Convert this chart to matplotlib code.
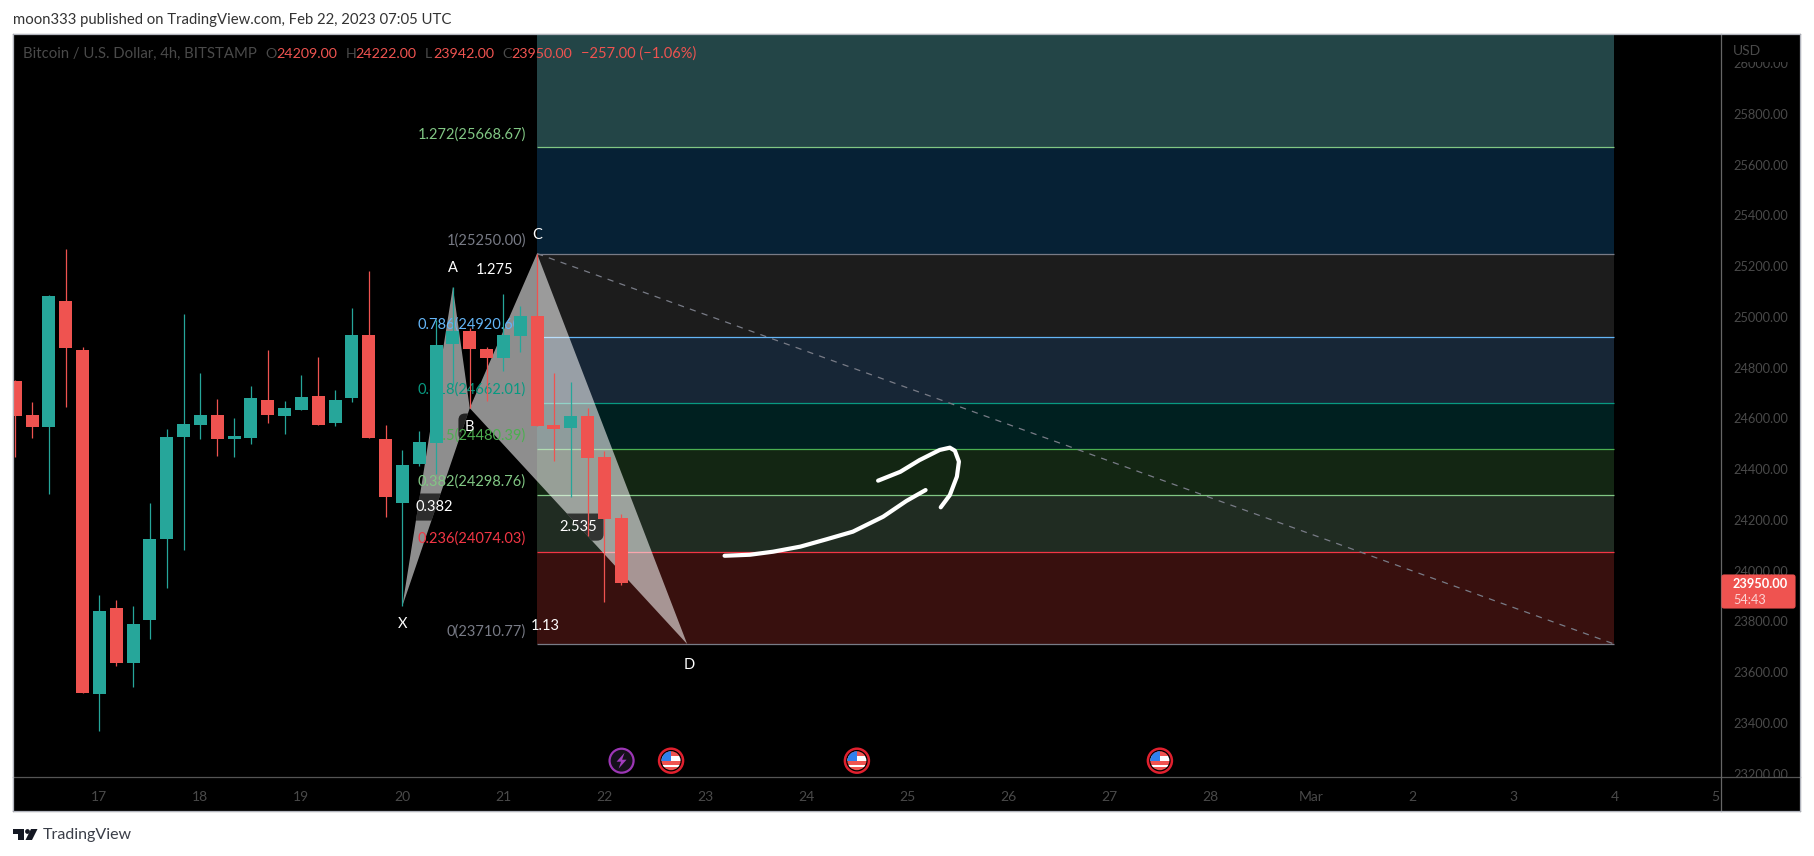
import numpy as np
import matplotlib as mpl
mpl.use("Agg")
import matplotlib.pyplot as plt
from matplotlib.patches import Circle, Rectangle, Polygon, FancyBboxPatch

plt.rcParams['font.family'] = ['Lato', 'DejaVu Sans']

# 4h candles, first one is Feb 16 04:00
first_candle = 16 + 1 / 6
opens = [24748, 24614, 24568, 25063, 24870, 23515, 23853, 23636, 23806, 24125, 24527, 24574, 24614,
         24519, 24523, 24673, 24610, 24633, 24689, 24582, 24681, 24929, 24519, 24267, 24421, 24503,
         24894, 24945, 24874, 24838, 24925, 25004, 24574, 24563, 24610, 24448, 24209]
highs = [24752, 24666, 25087, 25268, 24883, 23904, 23885, 23861, 24267, 24559, 25012, 24779, 24677,
         24602, 24728, 24870, 24669, 24771, 24842, 24712, 25035, 25181, 24574, 24476, 24551, 24988,
         25118, 24957, 24882, 25091, 25043, 25248, 24779, 24744, 24641, 24472, 24222]
lows = [24449, 24524, 24302, 24646, 23519, 23370, 23625, 23543, 23731, 23932, 24082, 24519, 24452,
        24448, 24500, 24582, 24539, 24633, 24574, 24570, 24665, 24523, 24212, 23861, 24413, 24381,
        24732, 24641, 24669, 24787, 24862, 24570, 24432, 24291, 24137, 23877, 23942]
closes = [24611, 24568, 25083, 24879, 23519, 23841, 23636, 23790, 24125, 24527, 24578, 24614, 24519,
          24531, 24681, 24614, 24641, 24685, 24574, 24673, 24929, 24523, 24291, 24417, 24507, 24890,
          24945, 24874, 24838, 24929, 25004, 24570, 24559, 24610, 24444, 24204, 23950]

# fib retracement
fib_ratios = ['1.272', '1', '0.786', '0.618', '0.5', '0.382', '0.236', '0']
fib_levels = [25668.67, 25250.00, 24920.60, 24662.01, 24480.39, 24298.76, 24074.03, 23710.77]
fib_line_colors = ['#81c784', '#787b86', '#64b5f6', '#089981', '#4caf50', '#81c784', '#f23645', '#787b86']
fib_band_colors = ['#062135', '#1c1c1c', '#172636', '#002020', '#132613', '#202c22', '#38100e']
fib_top_band = '#234547'
fib_start, fib_end = 21 + 1 / 3, 32
fib_top = 26300

# XABCD pattern
pattern_names = ['X', 'A', 'B', 'C', 'D']
pattern_x = [20.0, 20.5, 20.667, 21.333, 22.82]
pattern_y = [23861, 25118, 24641, 25250, 23710.77]
ratio_labels = ['1.275', '0.382', '2.535', '1.13']
ratio_x = [20.917, 20.32, 21.74, 21.41]
ratio_y = [25185, 24251, 24172, 23782]

# hand drawn arrow
stroke1_x = [23.19, 23.44, 23.67, 23.94, 24.20, 24.46, 24.76, 24.99, 25.18]
stroke1_y = [24059, 24063, 24075, 24095, 24124, 24154, 24213, 24275, 24318]
stroke2_x = [24.71, 24.93, 25.12, 25.32, 25.42, 25.47, 25.51, 25.49, 25.42, 25.33]
stroke2_y = [24355, 24390, 24436, 24476, 24485, 24473, 24430, 24371, 24298, 24250]

price_ticks = list(range(23200, 26200, 200))
day_ticks = list(range(17, 34))
day_labels = ['17', '18', '19', '20', '21', '22', '23', '24', '25', '26', '27', '28',
              'Mar', '2', '3', '4', '5']
flag_days = [22.66, 24.50, 27.50]
bolt_day = 22.17

GREEN = '#26a69a'
RED = '#ef5350'
DIM = '#4a4a4a'

W, H = 1814, 856
fig = plt.figure(figsize=(W / 100, H / 100), dpi=100, facecolor='white')

# black panel behind the price and time scales
bg = fig.add_axes([13 / W, 1 - 811 / H, 1787 / W, 777 / H], facecolor='black')
bg.set_xticks([])
bg.set_yticks([])

ax = fig.add_axes([13 / W, 1 - 777 / H, 1708 / W, 743 / H], facecolor='black')
ax.set_xlim(16.145, 33.055)
ax.set_ylim(23187.1, 26115.3)
for s in ax.spines.values():
    s.set_visible(False)

# bands
ax.fill_between([fib_start, fib_end], fib_levels[0], fib_top, color=fib_top_band, lw=0, zorder=1)
for i in range(len(fib_band_colors)):
    ax.fill_between([fib_start, fib_end], fib_levels[i + 1], fib_levels[i],
                    color=fib_band_colors[i], lw=0, zorder=1)
ax.hlines(fib_levels, fib_start, fib_end, colors=fib_line_colors, lw=0.9, zorder=1.5)
ax.plot([fib_start, fib_end], [fib_levels[1], fib_levels[-1]], color='#787b86', lw=0.9,
        dashes=(5, 5), zorder=1.6)

for name, level, col in zip(fib_ratios, fib_levels, fib_line_colors):
    ax.annotate('{}({:.2f})'.format(name, level), (fib_start, level), xytext=(-11, 13),
                textcoords='offset pixels', ha='right', va='center', color=col, fontsize=10.5, zorder=2)

# pattern triangles
pts = list(zip(pattern_x, pattern_y))
xab = Polygon([pts[0], pts[1], pts[2]], closed=True, fc='white', ec='none', alpha=0.56, zorder=1.8)
bcd = Polygon([pts[2], pts[3], pts[4]], closed=True, fc='white', ec='none', alpha=0.56, zorder=1.8)
ax.add_patch(xab)
ax.add_patch(bcd)

# label boxes only show where they lie on a triangle
box_style = dict(boxstyle='round,pad=0.45', fc='black', ec='none', alpha=0.68)
ax.text(ratio_x[1], ratio_y[1], ratio_labels[1], ha='center', va='center', color='none', fontsize=10.5,
        zorder=1.9, bbox=box_style, clip_on=True, clip_path=xab)
ax.text(ratio_x[2], ratio_y[2], ratio_labels[2], ha='center', va='center', color='none', fontsize=10.5,
        zorder=1.9, bbox=box_style, clip_on=True, clip_path=bcd)
ax.annotate('B', (pattern_x[2], pattern_y[2]), xytext=(0, -19), textcoords='offset pixels', ha='center',
            va='center', color='none', fontsize=10.5, zorder=1.9, clip_on=True, clip_path=xab,
            bbox=dict(boxstyle='round,pad=0.45', fc='black', ec='none', alpha=0.75))

offsets = {'X': (0, -18), 'A': (0, 19), 'B': (0, -19), 'C': (0, 19), 'D': (2, -21)}
for name, x, y in zip(pattern_names, pattern_x, pattern_y):
    ax.annotate(name, (x, y), xytext=offsets[name], textcoords='offset pixels', ha='center',
                va='center', color='white', fontsize=10.5, zorder=3)
for name, x, y in zip(ratio_labels, ratio_x, ratio_y):
    ax.text(x, y, name, ha='center', va='center', color='white', fontsize=10.5, zorder=3)

ax.plot(stroke1_x, stroke1_y, color='white', lw=3, solid_capstyle='round', zorder=4)
ax.plot(stroke2_x, stroke2_y, color='white', lw=3, solid_capstyle='round', zorder=4)

# candles
candle_x = first_candle + np.arange(len(opens)) / 6
opens, highs, lows, closes = map(np.array, (opens, highs, lows, closes))
cols = [GREEN if c >= o else RED for o, c in zip(opens, closes)]
ax.vlines(candle_x, lows, highs, colors=cols, lw=0.9, zorder=5)
ax.bar(candle_x, closes - opens, bottom=opens, width=0.129, color=cols, lw=0, zorder=6)

# axes labels
ax.yaxis.tick_right()
ax.set_yticks(price_ticks)
ax.set_yticklabels(['{:.2f}'.format(p) for p in price_ticks], color=DIM, fontsize=9.2)
ax.tick_params(axis='y', length=0, pad=8.6)
ax.set_xticks(day_ticks)
ax.set_xticklabels(day_labels, color=DIM, fontsize=10)
ax.tick_params(axis='x', length=0, pad=10)
ax.grid(False)

# overlay in pixel coordinates for the chrome round the chart
ov = fig.add_axes([0, 0, 1, 1], facecolor='none')
ov.set_xlim(0, W)
ov.set_ylim(H, 0)
ov.axis('off')


def day_px(d):
    return 99.4 + (d - 17) * 101


ov.add_patch(Rectangle((1722, 35), 77, 27, fc='black', ec='none', zorder=1))
ov.add_patch(Rectangle((1722, 777.5), 77, 33, fc='black', ec='none', zorder=1))
ov.plot([13, 1800], [777, 777], color='#555555', lw=0.9, zorder=2)
ov.plot([1721, 1721], [34, 811], color='#666666', lw=0.9, zorder=2)
ov.add_patch(Rectangle((13, 34), 1787, 777, fc='none', ec='#b2b5be', lw=0.9, zorder=3))

ov.text(13, 20, 'moon333 published on TradingView.com, Feb 22, 2023 07:05 UTC', color='#333333',
        fontsize=10.7, va='center')
ov.text(1733, 51, 'USD', color=DIM, fontsize=10, va='center')

legend_y = 54
ov.text(23, legend_y, 'Bitcoin / U.S. Dollar, 4h, BITSTAMP', color=DIM, fontsize=10.7, va='center')
for x_l, lab, x_v, val in [(265.6, 'O', 276, '24209.00'), (345.6, 'H', 355, '24222.00'),
                           (425, 'L', 433, '23942.00'), (502.7, 'C', 511, '23950.00')]:
    ov.text(x_l, legend_y, lab, color=DIM, fontsize=10.3, va='center')
    ov.text(x_v, legend_y, val, color=RED, fontsize=10.3, va='center')
ov.text(581, legend_y, '\u2212257.00 (\u22121.06%)', color=RED, fontsize=10.5, va='center')

# last price tag
ov.add_patch(FancyBboxPatch((1722, 575), 73, 33, boxstyle='round,pad=0,rounding_size=2', fc=RED, ec=RED,
                            lw=0.8, zorder=4))
ov.text(1733, 584, '23950.00', color='white', fontsize=9.2, fontweight='bold', va='center', zorder=5)
ov.text(1733, 600, '54:43', color='#fbd4d4', fontsize=9.2, va='center', zorder=5)

# event icons
icon_y = 760.7
c = Circle((day_px(bolt_day), icon_y), 12, fc='#14101a', ec='#9c36b5', lw=1.6, zorder=4)
ov.add_patch(c)
bx = day_px(bolt_day)
ov.add_patch(Polygon([(bx + 3, icon_y - 8), (bx - 5, icon_y + 1), (bx - 0.5, icon_y + 1), (bx - 3, icon_y + 8),
                      (bx + 5, icon_y - 1), (bx + 0.5, icon_y - 1)], fc='#a13dbd', ec='none', zorder=5))
for d in flag_days:
    fx = day_px(d)
    ov.add_patch(Circle((fx, icon_y), 12, fc='black', ec='#e0202e', lw=1.8, zorder=4))
    clip = Circle((fx, icon_y), 9.5, transform=ov.transData)
    for top, height, col in [(-10, 5, '#ef5350'), (-5, 5, 'white'), (0, 4, '#ef5350'), (4, 2, 'white'),
                             (6, 5, '#ef5350')]:
        r = Rectangle((fx - 10, icon_y + top), 20, height, fc=col, ec='none', zorder=5)
        ov.add_patch(r)
        r.set_clip_path(clip)
    r = Rectangle((fx - 10, icon_y - 10), 10, 10, fc='#2f80ed', ec='none', zorder=6)
    ov.add_patch(r)
    r.set_clip_path(clip)

# footer logo
LOGO = '#131722'
ov.add_patch(Polygon([(13, 829), (24, 829), (24, 840), (18, 840), (18, 834), (13, 834)], fc=LOGO, ec='none'))
ov.add_patch(Circle((27.5, 831.5), 2.4, fc=LOGO, ec='none'))
ov.add_patch(Polygon([(31, 829), (37.5, 829), (32, 840), (25.5, 840)], fc=LOGO, ec='none'))
ov.text(42.5, 835, 'TradingView', color='#3a3e48', fontsize=11.5, va='center')

fig.savefig('out.png', dpi=100)
